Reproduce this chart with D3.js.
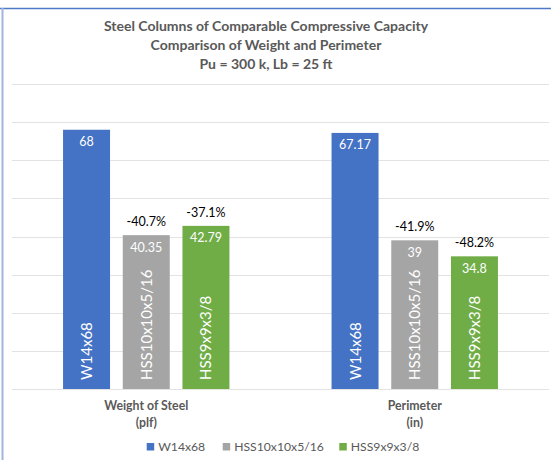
<!DOCTYPE html>
<html><head><meta charset="utf-8">
<script src="https://cdn.jsdelivr.net/npm/d3@7"></script>
<style>body{margin:0;background:#fff}svg{display:block}text{font-family:Lato,"Open Sans",sans-serif}</style>
</head><body><svg id="c" width="551" height="460"></svg>
<script>
const categories = ["Weight of Steel", "Perimeter"];
const categoryUnits = ["(plf)", "(in)"];
const series = ["W14x68", "HSS10x10x5/16", "HSS9x9x3/8"];
const colors = ["#4472C4", "#A5A5A5", "#70AD47"];
const weightValues = [68, 40.35, 42.79];
const perimeterValues = [67.17, 39, 34.8];
const weightPct = [null, "-40.7%", "-37.1%"];
const perimeterPct = [null, "-41.9%", "-48.2%"];
const yTicks = [0, 10, 20, 30, 40, 50, 60, 70, 80];
const titleLines = ["Steel Columns of Comparable Compressive Capacity", "Comparison of Weight and Perimeter", "Pu = 300 k, Lb = 25 ft"];

const values = [weightValues, perimeterValues];
const pcts = [weightPct, perimeterPct];
const svg = d3.select("#c");

// frame
svg.append("line").attr("x1",0).attr("x2",551).attr("y1",8.5).attr("y2",8.5).attr("stroke","#4f78c6").attr("stroke-width",1.5);
svg.append("line").attr("x1",2.5).attr("x2",2.5).attr("y1",8).attr("y2",460).attr("stroke","#9fb4e0").attr("stroke-width",2);

const x0 = d3.scaleBand().domain(categories).range([12, 549]).padding(0);
const x1 = d3.scaleBand().domain(series).range([0, x0.bandwidth()]).paddingInner(0.213).paddingOuter(0.855);
const y = d3.scaleLinear().domain([0, 80]).range([389, 84]);

// gridlines
svg.append("g").selectAll("line").data(yTicks).join("line")
  .attr("x1", 12).attr("x2", 549)
  .attr("y1", d => Math.round(y(d)) + 0.5).attr("y2", d => Math.round(y(d)) + 0.5)
  .attr("stroke", "#e3e3e3").attr("stroke-width", 1);

// title
svg.append("g").selectAll("text").data(titleLines).join("text")
  .attr("x", 266).attr("y", (d, i) => 31 + i * 19)
  .attr("text-anchor", "middle").attr("font-weight", "bold").attr("font-size", 14)
  .attr("fill", "#595959").text(d => d);

const groups = svg.append("g").selectAll("g").data(categories).join("g")
  .attr("transform", d => `translate(${x0(d)},0)`);

groups.each(function(cat, ci) {
  const g = d3.select(this);
  series.forEach((s, si) => {
    const v = values[ci][si];
    const bx = x1(s), bw = x1.bandwidth();
    g.append("rect").attr("x", bx).attr("y", y(v)).attr("width", bw).attr("height", y(0) - y(v)).attr("fill", colors[si]);
    g.append("text").attr("x", bx + bw / 2).attr("y", y(v) + 16.5).attr("text-anchor", "middle")
      .attr("fill", "#fff").attr("font-size", 12.5).text(v);
    if (pcts[ci][si]) {
      g.append("text").attr("x", bx + bw / 2).attr("y", y(v) - 9).attr("text-anchor", "middle")
        .attr("fill", "#000").attr("font-size", 12.5).text(pcts[ci][si]);
    }
    g.append("text").attr("transform", `translate(${bx + bw / 2 + 5.5},${y(0) - 9}) rotate(-90)`)
      .attr("fill", "#fff").attr("font-size", 15).text(s);
  });
  g.append("text").attr("x", x0.bandwidth() / 2).attr("y", 410).attr("text-anchor", "middle")
    .attr("font-weight", "bold").attr("font-size", 12.3).attr("fill", "#595959").text(cat);
  g.append("text").attr("x", x0.bandwidth() / 2).attr("y", 427).attr("text-anchor", "middle")
    .attr("font-weight", "bold").attr("font-size", 12.3).attr("fill", "#595959").text(categoryUnits[ci]);
});

// legend
const legendX = [146.7, 222.7, 339.3];
const lg = svg.append("g").selectAll("g").data(series).join("g")
  .attr("transform", (d, i) => `translate(${legendX[i]},443)`);
lg.append("rect").attr("width", 7.5).attr("height", 7.5).attr("fill", (d, i) => colors[i]);
lg.append("text").attr("x", 11.5).attr("y", 8).attr("font-size", 12.2).attr("fill", "#595959").text(d => d);
</script></body></html>
